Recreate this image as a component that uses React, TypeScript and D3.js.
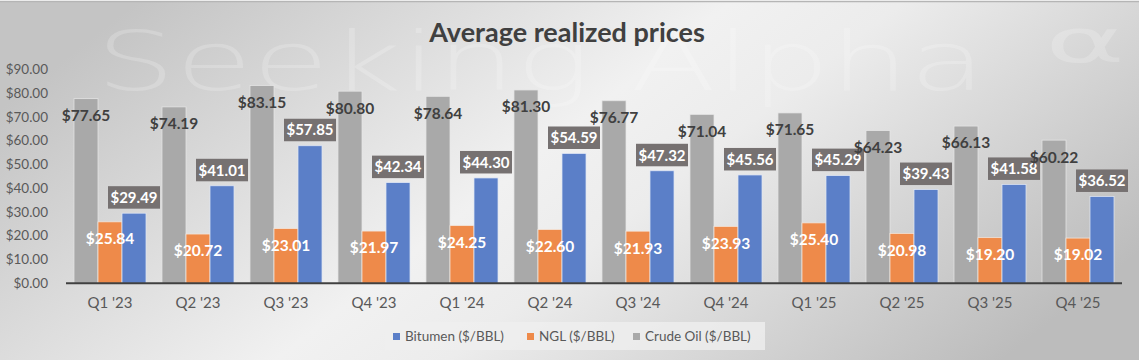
import React from "react";
import * as d3 from "d3";

const categories = ["Q1 '23", "Q2 '23", "Q3 '23", "Q4 '23", "Q1 '24", "Q2 '24", "Q3 '24", "Q4 '24", "Q1 '25", "Q2 '25", "Q3 '25", "Q4 '25"];
const crudeOil = [77.65, 74.19, 83.15, 80.8, 78.64, 81.3, 76.77, 71.04, 71.65, 64.23, 66.13, 60.22];
const ngl = [25.84, 20.72, 23.01, 21.97, 24.25, 22.6, 21.93, 23.93, 25.4, 20.98, 19.2, 19.02];
const bitumen = [29.49, 41.01, 57.85, 42.34, 44.3, 54.59, 47.32, 45.56, 45.29, 39.43, 41.58, 36.52];
const yTicks = [0, 10, 20, 30, 40, 50, 60, 70, 80, 90];
const seriesNames = ["Bitumen ($/BBL)", "NGL ($/BBL)", "Crude Oil ($/BBL)"];

const W = 1142;
const H = 362;
const FONT = "Lato, 'Open Sans', sans-serif";
const C_BLUE = "#5B7FC8";
const C_ORANGE = "#EE8A4A";
const C_GRAY = "#A9A9A9";
const fmt = (v: number) => "$" + v.toFixed(2);

export default function App() {
  const x = d3.scaleBand<string>().domain(categories).range([66, 1122]);
  const sub = d3.scaleBand<string>().domain(["crude", "ngl", "bit"]).range([0, x.bandwidth()]).paddingInner(0).paddingOuter(0.333);
  const y = d3.scaleLinear().domain([0, 90]).range([283.3, 69.3]);
  const bw = sub.bandwidth();

  return (
    <svg width={W} height={H} style={{ position: "absolute", left: 0, top: 0 }} fontFamily={FONT}>
      <defs>
        <linearGradient id="bg" x1="0" y1="0.3" x2="1" y2="0.7">
          <stop offset="0" stopColor="#c4c4c4" />
          <stop offset="0.45" stopColor="#f1f1f1" />
          <stop offset="0.58" stopColor="#ececec" />
          <stop offset="1" stopColor="#bcbcbc" />
        </linearGradient>
      </defs>
      <rect x={0} y={0} width={W} height={H} fill="#ffffff" />
      <rect x={0} y={2} width={1139} height={358} fill="url(#bg)" />
      <line x1={0} x2={1139} y1={1.5} y2={1.5} stroke="#b5b5b5" strokeWidth={1.5} />
      {/* watermark */}
      <text x={96} y={90} fontSize={82} fontFamily="'DejaVu Sans', sans-serif" fontWeight={200} fill="#ffffff" fillOpacity={0.2} textLength={890} lengthAdjust="spacingAndGlyphs">Seeking Alpha</text>
      <text x={1045} y={62} fontSize={60} fontFamily="'DejaVu Sans', sans-serif" fill="#ffffff" fillOpacity={0.2} textLength={80} lengthAdjust="spacingAndGlyphs">α</text>

      <text x={567} y={42} textAnchor="middle" fontSize={27} fontWeight={700} fill="#404040">Average realized prices</text>

      {yTicks.map((t) => (
        <text key={t} x={48} y={y(t)} dy="0.35em" textAnchor="end" fontSize={13.5} fill="#595959">{fmt(t)}</text>
      ))}

      {categories.map((c, i) => {
        const x0 = x(c)!;
        const xc = x0 + sub("crude")!;
        const xn = x0 + sub("ngl")!;
        const xb = x0 + sub("bit")!;
        return (
          <g key={c}>
            <rect x={xc} y={y(crudeOil[i])} width={bw} height={y(0) - y(crudeOil[i])} fill={C_GRAY} stroke="#e6e6e6" strokeWidth={0.75} />
            <rect x={xn} y={y(ngl[i])} width={bw} height={y(0) - y(ngl[i])} fill={C_ORANGE} stroke="#f3e6dc" strokeWidth={0.75} />
            <rect x={xb} y={y(bitumen[i])} width={bw} height={y(0) - y(bitumen[i])} fill={C_BLUE} stroke="#dfe6f5" strokeWidth={0.75} />
            <text x={xc + bw / 2} y={y(crudeOil[i]) + 17} dy="0.35em" textAnchor="middle" fontSize={15.5} fontWeight={700} fill="#404040">{fmt(crudeOil[i])}</text>
            <text x={xn + bw / 2} y={y(ngl[i]) + 17} dy="0.35em" textAnchor="middle" fontSize={15.5} fontWeight={700} fill="#ffffff">{fmt(ngl[i])}</text>
            <rect x={xb + bw / 2 - 26} y={y(bitumen[i]) - 27} width={52} height={22.5} fill="#767171" />
            <text x={xb + bw / 2} y={y(bitumen[i]) - 15.5} dy="0.35em" textAnchor="middle" fontSize={15} fontWeight={700} fill="#ffffff">{fmt(bitumen[i])}</text>
            <text x={x0 + x.bandwidth() / 2} y={302.5} dy="0.35em" textAnchor="middle" fontSize={15} fill="#595959">{c}</text>
          </g>
        );
      })}
      <line x1={66} x2={1122} y1={y(0)} y2={y(0)} stroke="#404040" strokeWidth={2} />

      <rect x={385} y={322} width={380} height={28} fill="#efefef" fillOpacity={0.8} />
      {seriesNames.map((s, i) => {
        const lx = [393, 527, 633][i];
        const col = [C_BLUE, C_ORANGE, C_GRAY][i];
        return (
          <g key={s}>
            <rect x={lx} y={333} width={7} height={7} fill={col} />
            <text x={lx + 12} y={336.5} dy="0.35em" fontSize={13.5} fill="#595959">{s}</text>
          </g>
        );
      })}
    </svg>
  );
}
